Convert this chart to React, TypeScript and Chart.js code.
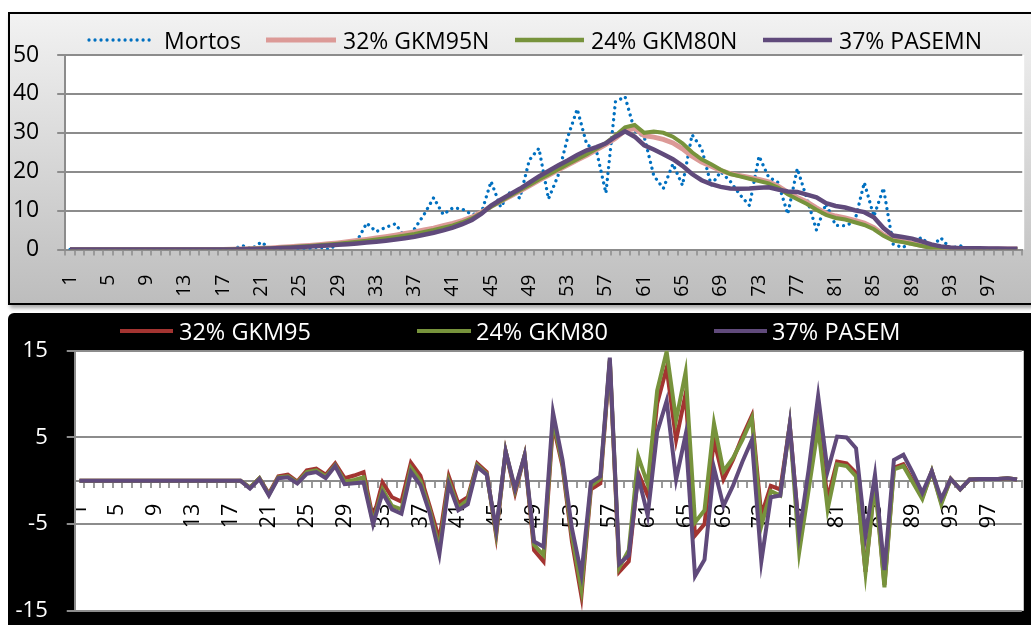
import React, { useEffect, useRef } from "react";
import { Chart, registerables } from "chart.js";

Chart.register(...registerables);

// ---------------- DATA ----------------
const categories = [
  "1","2","3","4","5","6","7","8","9","10","11","12","13","14","15","16","17","18","19","20",
  "21","22","23","24","25","26","27","28","29","30","31","32","33","34","35","36","37","38","39","40",
  "41","42","43","44","45","46","47","48","49","50","51","52","53","54","55","56","57","58","59","60",
  "61","62","63","64","65","66","67","68","69","70","71","72","73","74","75","76","77","78","79","80",
  "81","82","83","84","85","86","87","88","89","90","91","92","93","94","95","96","97","98","99","100",
];
const xTickLabels = ["1","5","9","13","17","21","25","29","33","37","41","45","49","53","57","61","65","69","73","77","81","85","89","93","97"];
const topYTicks = [0, 10, 20, 30, 40, 50];
const bottomYTicks = [-15, -5, 5, 15];

const topSeriesLabels = ["Mortos", "32% GKM95N", "24% GKM80N", "37% PASEMN"];
const bottomSeriesLabels = ["32% GKM95", "24% GKM80", "37% PASEM"];

const mortos = [
  0,0,0,0,0,0,0,0,0,0,
  0,0,0,0,0,0,0,0,1.0,0.2,
  1.9,0,0.2,0.8,0.2,0.3,0.7,0,1.4,1.6,
  2.2,6.8,4.6,5.7,6.6,3.2,5.3,9.0,13.3,9.0,
  10.7,10.4,9.0,9.5,17.5,10.9,14.8,13.2,23.0,26.0,
  13.0,19.0,28.8,36.1,27.0,25.5,14.5,38.0,39.3,30.5,
  29.0,19.0,15.7,22.0,16.5,29.5,26.0,16.5,20.0,17.5,
  14.1,11.3,24.0,18.6,17.2,9.1,20.8,13.1,5.0,11.8,
  6.2,6.1,7.2,17.2,8.5,15.8,1.4,0.5,1.9,3.1,
  0.6,3.0,0.2,1.0,0,0,0,0,0,0,
];
const gkm95n = [
  0,0,0,0,0,0,0,0,0,0,
  0,0,0,0,0,0,0,0.05,0.12,0.2,
  0.3,0.4,0.55,0.7,0.9,1.05,1.25,1.45,1.7,2.0,
  2.3,2.6,2.95,3.3,3.7,4.1,4.5,5.0,5.5,6.1,
  6.7,7.4,8.3,9.6,11.1,12.4,13.7,15.0,16.4,17.8,
  19.1,20.4,21.7,23.0,24.2,25.6,27.0,28.6,30.6,31.1,
  29.3,28.9,28.3,27.4,25.9,24.0,22.5,21.4,20.3,19.5,
  19.0,18.5,18.0,17.4,16.3,14.7,13.4,12.2,10.7,9.3,
  8.6,8.1,7.5,6.8,5.6,3.8,2.6,2.1,1.6,1.0,
  0.6,0.3,0.2,0.15,0.1,0.1,0.1,0.1,0.1,0.1,
];
const gkm80n = [
  0,0,0,0,0,0,0,0,0,0,
  0,0,0,0,0,0,0,0.04,0.1,0.17,
  0.25,0.34,0.46,0.6,0.76,0.9,1.08,1.27,1.48,1.72,
  1.98,2.25,2.55,2.87,3.22,3.6,4.0,4.5,5.0,5.6,
  6.2,7.0,8.0,9.4,11.0,12.4,13.8,15.2,16.6,18.0,
  19.3,20.6,21.9,23.2,24.5,25.9,27.4,29.3,31.4,32.0,
  30.0,30.3,30.0,29.0,27.3,25.0,23.2,21.9,20.5,19.4,
  18.8,18.2,17.6,17.0,15.9,14.2,12.9,11.7,10.2,8.9,
  8.1,7.7,7.0,6.3,5.2,3.5,2.3,1.9,1.4,0.9,
  0.4,0.2,0.15,0.1,0.1,0.1,0.1,0.1,0.1,0.1,
];
const pasemn = [
  0,0,0,0,0,0,0,0,0,0,
  0,0,0,0,0,0,0,0.03,0.08,0.14,
  0.2,0.28,0.37,0.47,0.6,0.74,0.88,1.03,1.2,1.38,
  1.57,1.78,2.0,2.25,2.55,2.9,3.3,3.8,4.3,4.9,
  5.6,6.5,7.6,9.2,11.3,12.8,14.2,15.6,17.2,18.8,
  20.2,21.6,22.9,24.3,25.5,26.3,27.3,29.0,30.4,29.0,
  26.8,25.7,24.5,23.2,21.5,19.4,17.8,16.8,16.1,15.7,
  15.6,15.7,15.9,16.0,15.4,14.9,14.8,14.1,13.4,11.9,
  11.2,10.8,10.1,9.6,8.3,5.5,3.6,3.2,2.8,2.1,
  1.3,0.8,0.5,0.35,0.3,0.3,0.25,0.25,0.2,0.2,
];

const gkm95 = [
  0,0,0,0,0,0,0,0,0,0,
  0,0,0,0,0,0,0,0,-0.8,0.3,
  -1.5,0.5,0.7,-0.1,1.2,1.4,0.7,2.0,0.3,0.6,
  1.0,-4.4,-0.2,-1.9,-2.4,2.1,0.6,-3.0,-6.8,0.5,
  -2.6,-1.9,2.0,1.0,-6.3,3.4,-1.4,2.9,-8.0,-9.3,
  6.5,1.7,-7.0,-13.3,-1.0,-0.3,13.8,-10.5,-9.3,0.9,
  -1.7,8.9,13.0,4.7,10.0,-6.3,-5.0,4.7,0.15,2.4,
  5.1,7.5,-4.0,-0.6,-1.0,6.4,-6.1,-0.2,6.8,-2.1,
  2.2,2.0,0.9,-10.5,0.15,-12.0,1.5,1.9,0.0,-1.9,
  1.1,-2.5,0.2,-1.0,0.15,0.2,0.2,0.2,0.3,0.15,
];
const gkm80 = [
  0,0,0,0,0,0,0,0,0,0,
  0,0,0,0,0,0,0,0,-0.8,0.3,
  -1.6,0.4,0.5,-0.2,1.0,1.2,0.5,1.8,-0.1,0.1,
  0.4,-4.8,-1.0,-2.9,-3.3,1.5,0.0,-3.4,-7.8,0.0,
  -3.1,-2.2,1.8,0.8,-6.0,3.4,-1.1,2.9,-7.4,-8.6,
  7.0,2.0,-6.3,-12.5,-0.6,0.2,14.0,-10.0,-8.0,2.8,
  -0.4,10.4,14.9,7.0,12.5,-4.8,-3.4,6.6,1.1,2.6,
  4.7,7.2,-5.2,-1.2,-1.7,6.4,-8.2,-1.0,6.2,-3.3,
  1.9,1.7,0.5,-10.6,-0.2,-12.3,1.3,1.7,-0.2,-2.1,
  1.1,-2.7,0.2,-1.0,0.15,0.2,0.2,0.2,0.3,0.15,
];
const pasem = [
  0,0,0,0,0,0,0,0,0,0,
  0,0,0,0,0,0,0,0,-0.9,0.2,
  -1.7,0.3,0.4,-0.3,0.8,1.0,0.3,1.7,-0.4,-0.3,
  -0.2,-5.0,-1.4,-3.3,-3.8,1.0,-0.5,-3.8,-8.5,-0.4,
  -3.4,-2.7,1.6,0.7,-5.6,3.4,-0.9,2.9,-7.0,-7.6,
  7.9,2.4,-5.5,-10.8,-0.2,0.5,14.2,-9.6,-8.6,0.5,
  -4.0,5.6,9.2,0.15,5.3,-11.0,-9.1,1.5,-2.9,-0.6,
  2.2,4.7,-9.3,-1.9,-1.7,6.5,-6.1,1.3,9.8,1.1,
  5.1,5.0,3.75,-6.3,0.7,-10.3,2.4,3.0,0.9,-1.4,
  1.1,-2.1,0.2,-1.0,0.15,0.2,0.2,0.2,0.3,0.15,
];

// ---------------- STYLE ----------------
const FONT = "'Open Sans', 'Noto Sans', sans-serif";
const C_BLUE = "#0070C0";
const C_PINK = "#DC9A97";
const C_OLIVE = "#77933C";
const C_PURPLE = "#604A7B";
const C_RED = "#A33431";
const GRID = "#8c8c8c";

const whitePlot = {
  id: "whitePlot",
  beforeDraw(chart: any) {
    const { ctx, chartArea } = chart;
    ctx.save();
    ctx.fillStyle = "#ffffff";
    ctx.fillRect(chartArea.left, chartArea.top, chartArea.right - chartArea.left + 2, chartArea.bottom - chartArea.top);
    ctx.restore();
  },
};

const tickCb = (_v: any, i: number) => (xTickLabels.includes(categories[i]) ? categories[i] : "");

function TopChart() {
  const ref = useRef<HTMLCanvasElement | null>(null);
  useEffect(() => {
    if (!ref.current) return;
    const chart = new Chart(ref.current, {
      type: "line",
      data: {
        labels: categories,
        datasets: [
          { label: topSeriesLabels[0], data: mortos, borderColor: C_BLUE, backgroundColor: C_BLUE, borderWidth: 3.3, borderDash: [0.01, 6], borderCapStyle: "round", pointRadius: 0, tension: 0, order: 4 },
          { label: topSeriesLabels[1], data: gkm95n, borderColor: C_PINK, backgroundColor: C_PINK, borderWidth: 5, pointRadius: 0, tension: 0, order: 3 },
          { label: topSeriesLabels[2], data: gkm80n, borderColor: C_OLIVE, backgroundColor: C_OLIVE, borderWidth: 4, pointRadius: 0, tension: 0, order: 2 },
          { label: topSeriesLabels[3], data: pasemn, borderColor: C_PURPLE, backgroundColor: C_PURPLE, borderWidth: 4.5, pointRadius: 0, tension: 0, order: 1 },
        ],
      } as any,
      options: {
        animation: false,
        responsive: false,
        maintainAspectRatio: false,
        events: [],
        layout: { padding: { left: 0, right: 33.8, top: 55, bottom: 3.5 } },
        plugins: { legend: { display: false }, tooltip: { enabled: false }, title: { display: false } },
        scales: {
          x: {
            type: "category",
            offset: true,
            grid: { drawOnChartArea: false, drawTicks: true, tickLength: 6, color: "#9a9a9a", lineWidth: 2, offset: true },
            border: { display: true, color: GRID, width: 2 },
            ticks: { autoSkip: false, maxRotation: 90, minRotation: 90, padding: 19, color: "#000", font: { family: FONT, size: 19.5 }, callback: tickCb },
            afterFit: (s: any) => { s.height = 57; },
          },
          y: {
            min: 0,
            max: 50,
            afterBuildTicks: (s: any) => { s.ticks = topYTicks.map((v) => ({ value: v })); },
            grid: { color: GRID, lineWidth: 2, tickLength: 8, drawTicks: true },
            border: { display: true, color: GRID, width: 2 },
            ticks: { padding: 18, color: "#000", font: { family: FONT, size: 23 } },
            afterFit: (s: any) => { s.width = 65.2; },
          },
        },
      } as any,
      plugins: [whitePlot],
    });
    return () => chart.destroy();
  }, []);
  return <canvas ref={ref} width={1060} height={310} style={{ position: "absolute", left: 0, top: 0 }} />;
}

function BottomChart() {
  const ref = useRef<HTMLCanvasElement | null>(null);
  useEffect(() => {
    if (!ref.current) return;
    const chart = new Chart(ref.current, {
      type: "line",
      data: {
        labels: categories,
        datasets: [
          { label: bottomSeriesLabels[0], data: gkm95, borderColor: C_RED, backgroundColor: C_RED, borderWidth: 4, pointRadius: 0, tension: 0, order: 3 },
          { label: bottomSeriesLabels[1], data: gkm80, borderColor: C_OLIVE, backgroundColor: C_OLIVE, borderWidth: 4, pointRadius: 0, tension: 0, order: 2 },
          { label: bottomSeriesLabels[2], data: pasem, borderColor: C_PURPLE, backgroundColor: C_PURPLE, borderWidth: 4, pointRadius: 0, tension: 0, order: 1 },
        ],
      } as any,
      options: {
        animation: false,
        responsive: false,
        maintainAspectRatio: false,
        events: [],
        layout: { padding: { left: 0, right: 34.75, top: 37.7, bottom: 28 } },
        plugins: { legend: { display: false }, tooltip: { enabled: false }, title: { display: false } },
        scales: {
          x: {
            type: "category",
            offset: true,
            position: { y: 0 },
            grid: { drawOnChartArea: false, drawTicks: true, tickLength: 6, color: "#9a9a9a", lineWidth: 2, offset: true },
            border: { display: true, color: GRID, width: 2 },
            ticks: { autoSkip: false, maxRotation: 90, minRotation: 90, padding: 17, color: "#000", font: { family: FONT, size: 21.5 }, callback: tickCb },
          },
          y: {
            min: -15,
            max: 15,
            afterBuildTicks: (s: any) => { s.ticks = bottomYTicks.map((v) => ({ value: v })); },
            grid: { color: GRID, lineWidth: 2, tickLength: 8, drawTicks: true },
            border: { display: true, color: GRID, width: 2 },
            ticks: { padding: 19, color: "#ffffff", font: { family: FONT, size: 22 } },
            afterFit: (s: any) => { s.width = 74.75; },
          },
        },
      } as any,
      plugins: [whitePlot],
    });
    return () => chart.destroy();
  }, []);
  return <canvas ref={ref} width={1060} height={330} style={{ position: "absolute", left: 0, top: 313 }} />;
}

function LegendItem(props: { left: number; top: number; lineW: number; gap: number; color: string; dotted?: boolean; thick: number; text: string; textColor: string; size: number }) {
  const { left, top, lineW, gap, color, dotted, thick, text, textColor, size } = props;
  return (
    <div style={{ position: "absolute", left, top, display: "flex", alignItems: "center", height: 24, whiteSpace: "nowrap" }}>
      <svg width={lineW} height={10} style={{ display: "block" }}>
        <line
          x1={dotted ? 2 : 0}
          y1={5}
          x2={lineW - (dotted ? 2 : 0)}
          y2={5}
          stroke={color}
          strokeWidth={thick}
          strokeDasharray={dotted ? "0.01 6" : undefined}
          strokeLinecap="round"
        />
      </svg>
      <span style={{ marginLeft: gap, fontFamily: FONT, fontSize: size, lineHeight: "24px", color: textColor }}>{text}</span>
    </div>
  );
}

export default function App() {
  return (
    <div style={{ position: "fixed", left: 0, top: 0, width: 1031, height: 625, overflow: "hidden", background: "#ffffff" }}>
      <div
        style={{
          position: "absolute", left: 8, top: 12, width: 1040, height: 293, boxSizing: "border-box",
          border: "2px solid #000", background: "linear-gradient(#f2f2f2, #bdbdbd)",
          boxShadow: "2px 3px 4px rgba(0,0,0,0.35)",
        }}
      />
      <div style={{ position: "absolute", left: 8, top: 313, width: 1040, height: 330, background: "#000", borderRadius: "6px 0 0 0" }} />
      <TopChart />
      <BottomChart />
      <LegendItem left={87} top={28} lineW={67} gap={10} color={C_BLUE} dotted thick={3.3} text={topSeriesLabels[0]} textColor="#000" size={23} />
      <LegendItem left={266} top={28} lineW={70} gap={7} color={C_PINK} thick={5} text={topSeriesLabels[1]} textColor="#000" size={23} />
      <LegendItem left={515} top={28} lineW={69} gap={7} color={C_OLIVE} thick={4.5} text={topSeriesLabels[2]} textColor="#000" size={23} />
      <LegendItem left={763} top={28} lineW={69} gap={7} color={C_PURPLE} thick={4.5} text={topSeriesLabels[3]} textColor="#000" size={23} />
      <LegendItem left={120} top={319} lineW={53} gap={6} color={C_RED} thick={4} text={bottomSeriesLabels[0]} textColor="#fff" size={23.5} />
      <LegendItem left={417} top={319} lineW={54} gap={5} color={C_OLIVE} thick={4} text={bottomSeriesLabels[1]} textColor="#fff" size={23.5} />
      <LegendItem left={714} top={319} lineW={53} gap={5} color={C_PURPLE} thick={4} text={bottomSeriesLabels[2]} textColor="#fff" size={23.5} />
    </div>
  );
}
